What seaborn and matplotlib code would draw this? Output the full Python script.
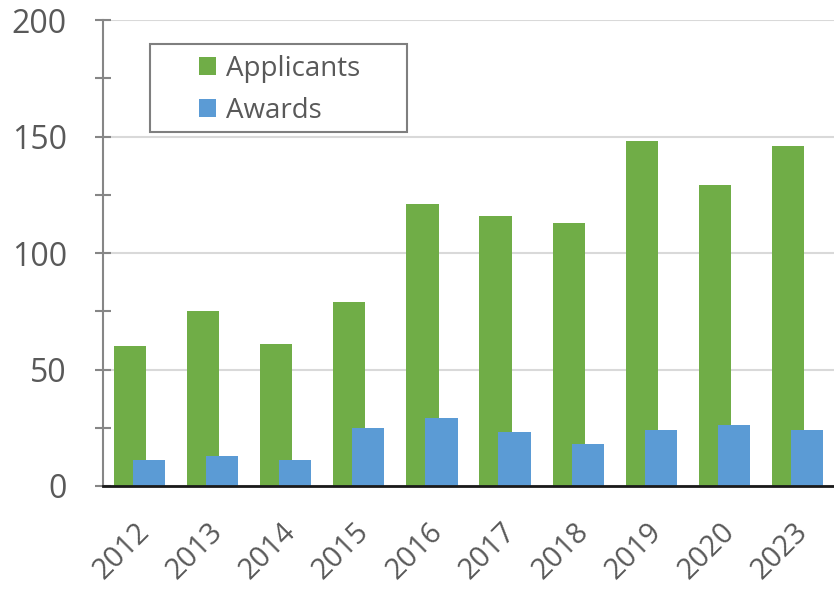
import matplotlib
matplotlib.use("Agg")
import matplotlib.pyplot as plt
import matplotlib.transforms as mtrans
import seaborn as sns
import pandas as pd
from matplotlib.ticker import MultipleLocator
from matplotlib.patches import Rectangle

years = ["2012", "2013", "2014", "2015", "2016", "2017", "2018", "2019", "2020", "2023"]
applicants = [60, 75, 61, 79, 121, 116, 113, 148, 129, 146]
awards = [11, 13, 11, 25, 29, 23, 18, 24, 26, 24]
series = ["Applicants", "Awards"]
colors = ["#70AD47", "#5B9BD5"]

df = pd.DataFrame({
    "Year": years * 2,
    "Count": applicants + awards,
    "Series": [series[0]] * len(years) + [series[1]] * len(years),
})

sns.set_theme(style="white")
plt.rcParams["font.family"] = ["Open Sans", "DejaVu Sans"]
text_color = "#595959"

fig = plt.figure(figsize=(8.34, 5.90), dpi=100)
ax = fig.add_axes([0.1235, 0.1763, 0.8765, 0.7897])

sns.barplot(data=df, x="Year", y="Count", hue="Series", palette=colors,
            width=0.52, dodge=True, saturation=1, ax=ax, legend=True, zorder=2,
            linewidth=0, edgecolor="none")

# widen overlapping bars around their dodged centres
bar_w = 0.44
for p in ax.patches:
    if p.get_height() > 0 and p.get_width() < 1:
        c = p.get_x() + p.get_width() / 2
        p.set_x(c - bar_w / 2)
        p.set_width(bar_w)
        p.set_linewidth(0)

ax.set_xlim(-0.5, len(years) - 0.5)
ax.set_ylim(0, 200)
ax.yaxis.set_major_locator(MultipleLocator(50))
ax.yaxis.set_minor_locator(MultipleLocator(25))
ax.grid(axis="y", which="major", color="#D9D9D9", linewidth=1.5, zorder=0)
ax.set_axisbelow(True)

for s in ["top", "right"]:
    ax.spines[s].set_visible(False)
ax.spines["left"].set_color("#868686")
ax.spines["left"].set_linewidth(1.5)
ax.spines["bottom"].set_color("#1a1a1a")
ax.spines["bottom"].set_linewidth(2.0)
ax.spines["bottom"].set_zorder(3)

ax.tick_params(axis="y", which="both", direction="inout", length=12, width=1.5,
               color="#868686", labelsize=23, labelcolor=text_color, pad=20, left=True)
ax.tick_params(axis="x", which="both", length=0, labelsize=21, labelcolor=text_color, pad=30)
shift = mtrans.ScaledTranslation(6 / 100, 0, fig.dpi_scale_trans)
for lbl in ax.get_xticklabels():
    lbl.set_rotation(45)
    lbl.set_ha("right")
    lbl.set_va("center")
    lbl.set_rotation_mode("anchor")
    lbl.set_transform(lbl.get_transform() + shift)

ax.set_xlabel("")
ax.set_ylabel("")

leg = ax.legend(loc="upper left", bbox_to_anchor=(199 / 834, 1 - 55 / 590),
                bbox_transform=fig.transFigure, fontsize=20,
                frameon=False, handlelength=0.62, handleheight=0.62,
                handletextpad=0.35, borderpad=0, labelspacing=0.5,
                borderaxespad=0, title=None)
for t in leg.get_texts():
    t.set_color(text_color)

# legend frame
fig.patches.append(Rectangle((150 / 834, 1 - 132 / 590), 257 / 834, 88 / 590,
                             transform=fig.transFigure, fill=False,
                             edgecolor="#7F7F7F", linewidth=1.5, zorder=5))

fig.savefig("out.png", dpi=100)
